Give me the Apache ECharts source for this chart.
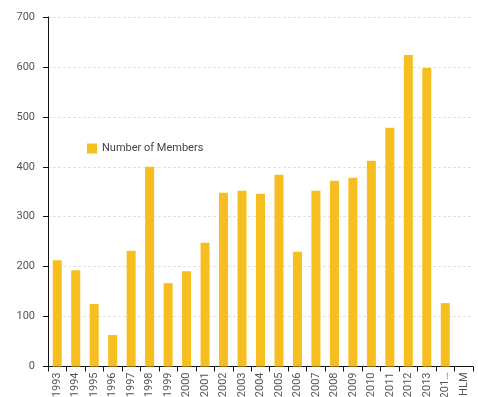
<!DOCTYPE html>
<html>
<head>
<meta charset="utf-8">
<script src="https://cdn.jsdelivr.net/npm/echarts@6/dist/echarts.min.js"></script>
<style>
  html, body { margin: 0; padding: 0; background: #fff; }
  #chart { width: 478px; height: 397px; }
</style>
</head>
<body>
<div id="chart"></div>
<script>
// Membership count per year
const years = ['1993', '1994', '1995', '1996', '1997', '1998', '1999', '2000', '2001', '2002',
  '2003', '2004', '2005', '2006', '2007', '2008', '2009', '2010', '2011', '2012', '2013',
  '2014 (YTD)', 'HLM'];
const members = [213, 193, 125, 63, 232, 400, 167, 191, 248, 348,
  352, 346, 384, 230, 352, 372, 378, 412, 478, 624, 598,
  127, null];
const seriesName = 'Number of Members';
const yTicks = { min: 0, max: 700, interval: 100 };

const font = 'Roboto, "DejaVu Sans", sans-serif';
const chart = echarts.init(document.getElementById('chart'), null, { renderer: 'canvas' });

// long category names are clipped to three characters plus an ellipsis
const shortLabel = (name) => (name.length > 4 ? name.slice(0, 3) + '…' : name);

chart.setOption({
  animation: false,
  textStyle: { fontFamily: font },
  grid: { left: 48, right: 5, top: 17, bottom: 30.5, containLabel: false, outerBoundsMode: 'none' },
  legend: {
    left: 82, top: 138,
    itemWidth: 10, itemHeight: 10, itemGap: 4,
    icon: 'rect',
    textStyle: { color: '#444', fontSize: 11, fontFamily: font },
    data: [seriesName]
  },
  xAxis: {
    type: 'category',
    data: years,
    axisLine: { lineStyle: { color: '#111', width: 1 } },
    axisTick: { show: true, length: 5, lineStyle: { color: '#111' } },
    axisLabel: {
      rotate: 90, margin: 6, interval: 0,
      color: '#555', fontSize: 11, fontFamily: font,
      formatter: shortLabel
    },
    splitLine: { show: false }
  },
  yAxis: {
    type: 'value',
    min: yTicks.min, max: yTicks.max, interval: yTicks.interval,
    axisLine: { show: true, lineStyle: { color: '#111', width: 1 } },
    axisTick: { show: true, length: 5, lineStyle: { color: '#111' } },
    axisLabel: { color: '#555', fontSize: 11, margin: 13, fontFamily: font },
    splitLine: { show: true, lineStyle: { color: '#e2e2e2', type: [3, 2], width: 1 } }
  },
  series: [{
    name: seriesName,
    type: 'bar',
    data: members,
    barWidth: 9,
    itemStyle: { color: '#F7BE1F' }
  }]
});
</script>
</body>
</html>
